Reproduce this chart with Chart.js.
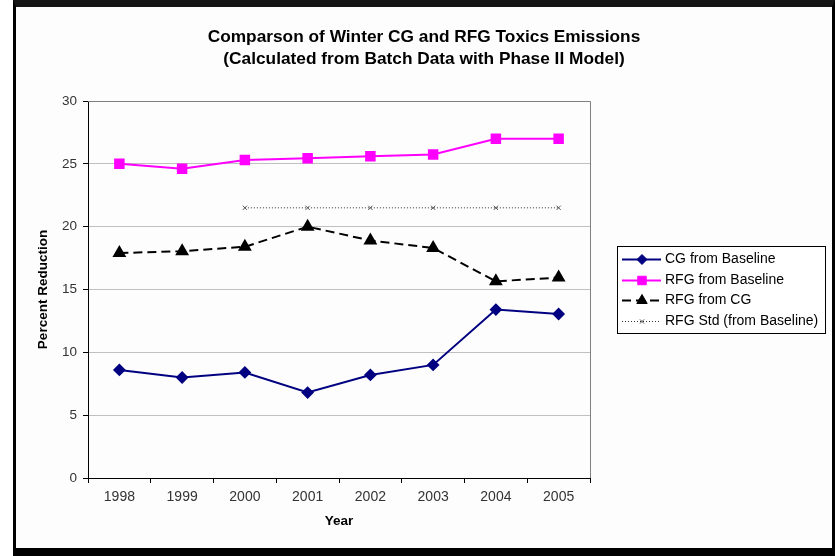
<!DOCTYPE html>
<html>
<head>
<meta charset="utf-8">
<script src="https://cdn.jsdelivr.net/npm/chart.js@4.4.0/dist/chart.umd.min.js"></script>
<style>
  html, body { margin: 0; padding: 0; background: #fff; }
  #wrap { position: relative; width: 835px; height: 556px; overflow: hidden; }
  #frame {
    position: absolute; left: 13px; top: 0; width: 816px; height: 541px;
    border-top: 7px solid #151515; border-left: 3px solid #000;
    border-right: 3px solid #000; border-bottom: 8px solid #000;
    background: #fdfdfd;
  }
  canvas { position: absolute; left: 0; top: 0; }
</style>
</head>
<body>
<div id="wrap">
  <div id="frame"></div>
  <canvas id="toxicsChart" width="835" height="556"></canvas>
</div>
<script>
const years = ["1998", "1999", "2000", "2001", "2002", "2003", "2004", "2005"];
const cgFromBaseline = [8.6, 8.0, 8.4, 6.8, 8.2, 9.0, 13.4, 13.05];
const rfgFromBaseline = [25.0, 24.6, 25.3, 25.45, 25.6, 25.75, 27.0, 27.0];
const rfgFromCG = [17.9, 18.05, 18.4, 20.0, 18.9, 18.3, 15.65, 15.95];
const rfgStd = [null, null, 21.5, 21.5, 21.5, 21.5, 21.5, 21.5];
const yTicks = [0, 5, 10, 15, 20, 25, 30];

Chart.defaults.font.family = '"Liberation Sans", Arial, sans-serif';

// gray border on the top and right of the plot area, like the Excel original
const plotBorder = {
  id: "plotBorder",
  beforeDatasetsDraw(chart) {
    const { ctx, chartArea } = chart;
    ctx.save();
    ctx.strokeStyle = "#808080";
    ctx.lineWidth = 1;
    ctx.beginPath();
    ctx.moveTo(chartArea.left, chartArea.top + 0.5);
    ctx.lineTo(chartArea.right + 0.5, chartArea.top + 0.5);
    ctx.lineTo(chartArea.right + 0.5, chartArea.bottom);
    ctx.stroke();
    ctx.restore();
  }
};

// boxed legend with line + marker samples
const sideLegend = {
  id: "sideLegend",
  afterDraw(chart) {
    const { ctx, chartArea } = chart;
    const sets = chart.data.datasets;
    const rowH = 20.5;
    ctx.save();
    ctx.font = '14px "Liberation Sans", Arial, sans-serif';
    let maxW = 0;
    sets.forEach(d => { maxW = Math.max(maxW, ctx.measureText(d.label).width); });
    const w = Math.round(48 + maxW + 7);
    const h = Math.round(sets.length * rowH + 5);
    const x = Math.round(chartArea.right + 27);
    const y = Math.round((chartArea.top + chartArea.bottom) / 2 - h / 2);
    ctx.fillStyle = "#fff";
    ctx.fillRect(x, y, w, h);
    ctx.strokeStyle = "#000";
    ctx.lineWidth = 1;
    ctx.strokeRect(x + 0.5, y + 0.5, w, h);
    sets.forEach((d, i) => {
      const cy = Math.round(y + 13 + i * rowH) + 0.5;
      ctx.save();
      ctx.strokeStyle = d.borderColor;
      ctx.lineWidth = d.borderWidth;
      ctx.setLineDash(d.borderDash || []);
      ctx.beginPath();
      ctx.moveTo(x + 5, cy);
      ctx.lineTo(x + 44, cy);
      ctx.stroke();
      ctx.setLineDash([]);
      ctx.fillStyle = d.pointBackgroundColor;
      ctx.strokeStyle = d.pointBorderColor;
      ctx.lineWidth = 1;
      Chart.helpers.drawPoint(ctx, { pointStyle: d.pointStyle, radius: d.pointRadius, rotation: 0, borderWidth: 1 }, x + 25, cy);
      ctx.restore();
      ctx.fillStyle = "#000";
      ctx.textBaseline = "middle";
      ctx.textAlign = "left";
      ctx.fillText(d.label, x + 48, cy);
    });
    ctx.restore();
  }
};

new Chart(document.getElementById("toxicsChart"), {
  type: "line",
  data: {
    labels: years,
    datasets: [
      {
        label: "CG from Baseline",
        data: cgFromBaseline,
        borderColor: "#000080",
        borderWidth: 2,
        pointStyle: "rectRot",
        pointRadius: 5,
        pointBackgroundColor: "#000080",
        pointBorderColor: "#000080"
      },
      {
        label: "RFG from Baseline",
        data: rfgFromBaseline,
        borderColor: "#ff00ff",
        borderWidth: 2,
        pointStyle: "rect",
        pointRadius: 6,
        pointBackgroundColor: "#ff00ff",
        pointBorderColor: "#ff00ff"
      },
      {
        label: "RFG from CG",
        data: rfgFromCG,
        borderColor: "#000",
        borderWidth: 2,
        borderDash: [9, 5],
        pointStyle: "triangle",
        pointRadius: 6,
        pointBackgroundColor: "#000",
        pointBorderColor: "#000"
      },
      {
        label: "RFG Std (from Baseline)",
        data: rfgStd,
        borderColor: "#333",
        borderWidth: 1,
        borderDash: [1, 2],
        pointStyle: "crossRot",
        pointRadius: 3,
        pointBackgroundColor: "#333",
        pointBorderColor: "#555"
      }
    ]
  },
  options: {
    responsive: false,
    animation: false,
    layout: { padding: { left: 16, right: 3, top: 7, bottom: 8 } },
    plugins: {
      legend: { display: false },
      tooltip: { enabled: false },
      title: {
        display: true,
        text: ["Comparson of Winter CG and RFG Toxics Emissions", "(Calculated from Batch Data with Phase II Model)"],
        color: "#000",
        font: { size: 17.3, weight: "bold", lineHeight: "22px" },
        padding: { top: 19, bottom: 31 }
      }
    },
    scales: {
      x: {
        type: "category",
        offset: true,
        grid: { offset: true, drawOnChartArea: false, tickLength: 5, tickColor: "#000" },
        border: { color: "#000", width: 1 },
        ticks: { color: "#333", font: { size: 14 }, padding: 6, maxRotation: 0 },
        title: { display: true, text: "Year", color: "#000", font: { size: 13.5, weight: "bold" }, padding: { top: 0, bottom: 19 } },
        afterFit(s) { s.height = 70; }
      },
      y: {
        min: 0,
        max: 30,
        afterBuildTicks(s) { s.ticks = yTicks.map(v => ({ value: v })); },
        grid: { color: "#c0c0c0", tickLength: 5, tickColor: "#000" },
        border: { color: "#000", width: 1 },
        ticks: { color: "#333", font: { size: 13.5 }, padding: 6 },
        title: { display: true, text: "Percent Reduction", color: "#000", font: { size: 13.5, weight: "bold" }, padding: { top: 19, bottom: 0 } },
        afterFit(s) { s.width = 72; }
      },
      spare: {
        position: "right",
        min: 0,
        max: 30,
        grid: { display: false },
        border: { display: false },
        ticks: { display: false },
        afterFit(s) { s.width = 242; }
      }
    }
  },
  plugins: [plotBorder, sideLegend]
});
</script>
</body>
</html>
